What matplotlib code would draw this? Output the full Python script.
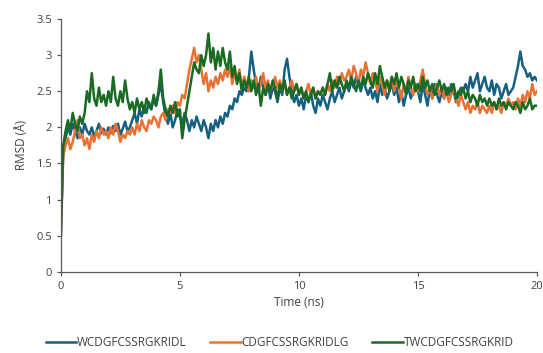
import numpy as np
from matplotlib import pyplot as plt

plt.rcParams['font.family'] = ['Open Sans', 'DejaVu Sans']

# RMSD values, one row per ns (step 0.1 ns)
wcdg = [0.5, 1.65, 1.85, 2.0, 1.9, 2.05, 1.95, 1.85, 2.0, 1.9,
        2.05, 1.95, 1.9, 2.0, 1.88, 1.95, 2.05, 1.92, 1.98, 1.9,
        2.0, 1.92, 2.02, 1.95, 2.05, 1.9, 1.98, 2.08, 1.95, 2.0,
        2.1, 2.2, 2.05, 2.25, 2.15, 2.3, 2.2, 2.35, 2.25, 2.4,
        2.3, 2.45, 2.6, 2.35, 2.15, 2.05, 2.2, 2.0, 2.1, 2.25,
        2.15, 2.05, 2.2, 2.1, 1.95, 2.1, 2.0, 2.15, 2.05, 1.95,
        2.1, 2.0, 1.85, 2.05, 1.95, 2.1, 2.0, 2.15, 2.05, 2.2,
        2.15, 2.3, 2.25, 2.4, 2.35, 2.5, 2.45, 2.55, 2.5, 2.7,
        3.05, 2.8, 2.6, 2.5, 2.7, 2.55, 2.45, 2.6, 2.4, 2.55,
        2.5, 2.35, 2.55, 2.45, 2.8, 2.95, 2.7, 2.5, 2.35, 2.45,
        2.3, 2.4, 2.25, 2.45, 2.35, 2.5, 2.3, 2.2, 2.4, 2.3,
        2.45, 2.35, 2.25, 2.4, 2.5, 2.35, 2.45, 2.55, 2.4, 2.5,
        2.6, 2.5, 2.65, 2.55, 2.7, 2.6, 2.5, 2.65, 2.55, 2.45,
        2.55, 2.4, 2.5, 2.35, 2.6, 2.45, 2.55, 2.4, 2.5, 2.6,
        2.45, 2.55, 2.35, 2.5, 2.3, 2.45, 2.55, 2.4, 2.5, 2.6,
        2.5, 2.35, 2.6, 2.45, 2.3, 2.55, 2.4, 2.6, 2.45, 2.35,
        2.5, 2.4, 2.55, 2.45, 2.6, 2.5, 2.35, 2.45, 2.55, 2.5,
        2.6, 2.5, 2.7, 2.55, 2.65, 2.75, 2.5, 2.6, 2.7, 2.55,
        2.5, 2.65, 2.45, 2.6, 2.55, 2.4, 2.5, 2.6, 2.45, 2.5,
        2.55, 2.7, 2.85, 3.05, 2.85, 2.8, 2.7, 2.75, 2.65, 2.7,
        2.65]

cdgf = [0.5, 1.6, 1.75, 1.85, 1.7, 1.8, 1.95, 2.1, 1.85, 1.9,
        1.75, 1.85, 1.7, 1.9, 1.8, 1.95, 1.85, 2.0, 1.9, 1.95,
        1.85, 2.0, 1.9, 2.05, 1.95, 1.8, 1.9, 1.85, 1.95, 1.9,
        2.0, 1.9, 2.05, 1.95, 2.1, 2.0, 1.95, 2.1, 2.05, 2.15,
        2.1, 2.0, 2.15, 2.2, 2.1, 2.25, 2.2, 2.3, 2.2, 2.35,
        2.3, 2.45, 2.4, 2.6, 2.8, 2.95, 3.1, 2.9, 3.0, 2.8,
        2.6, 2.75, 2.5, 2.65, 2.55, 2.7, 2.6, 2.75, 2.65, 2.8,
        2.7, 2.85, 2.6, 2.75, 2.65, 2.8, 2.55, 2.7, 2.6, 2.5,
        2.65, 2.55, 2.7, 2.5, 2.6, 2.75, 2.55, 2.65, 2.5, 2.6,
        2.7, 2.55, 2.65, 2.5, 2.6, 2.45, 2.55, 2.65, 2.5, 2.6,
        2.45, 2.55, 2.4, 2.5, 2.6, 2.45, 2.55, 2.4, 2.5, 2.45,
        2.55, 2.45, 2.6, 2.5, 2.65, 2.55, 2.7, 2.6, 2.75, 2.65,
        2.7, 2.8, 2.65, 2.85, 2.75, 2.6, 2.8, 2.7, 2.9, 2.75,
        2.6, 2.75, 2.65, 2.5, 2.7, 2.6, 2.45, 2.65, 2.55, 2.7,
        2.5, 2.65, 2.55, 2.4, 2.6, 2.5, 2.7, 2.55, 2.45, 2.6,
        2.5, 2.65, 2.8, 2.6, 2.45, 2.55, 2.4, 2.5, 2.6, 2.45,
        2.55, 2.4, 2.5, 2.35, 2.45, 2.55, 2.4, 2.3, 2.45, 2.35,
        2.25, 2.35, 2.2, 2.3, 2.25, 2.35, 2.2, 2.3, 2.25, 2.2,
        2.3, 2.2, 2.35, 2.25, 2.3, 2.2, 2.35, 2.3, 2.4, 2.3,
        2.35, 2.25, 2.4, 2.3, 2.45, 2.35, 2.5, 2.4, 2.6, 2.45,
        2.5]

twcd = [0.5, 1.75, 1.95, 2.1, 1.95, 2.2, 2.05, 1.95, 2.15, 2.05,
        2.2, 2.5, 2.35, 2.75, 2.4, 2.3, 2.55, 2.35, 2.45, 2.3,
        2.5, 2.35, 2.7, 2.4, 2.3, 2.5, 2.35, 2.65, 2.4, 2.25,
        2.35, 2.2, 2.4, 2.25, 2.35, 2.2, 2.4, 2.3, 2.25, 2.45,
        2.3, 2.5, 2.8, 2.4, 2.25, 2.15, 2.3, 2.2, 2.35, 2.15,
        2.25, 1.85, 2.1, 2.3, 2.5, 2.7, 2.9, 2.8, 2.75, 3.0,
        2.85, 3.0, 3.3, 2.9, 3.1, 2.8, 3.05, 2.85, 3.1, 2.9,
        2.8, 3.05, 2.7, 2.85, 2.6, 2.75, 2.5, 2.65, 2.55, 2.7,
        2.5, 2.65, 2.45, 2.6, 2.3, 2.55, 2.45, 2.6, 2.5, 2.65,
        2.55, 2.4, 2.6, 2.5, 2.65, 2.45, 2.55, 2.4, 2.5, 2.6,
        2.45, 2.55, 2.4, 2.5, 2.35, 2.45, 2.55, 2.4, 2.5, 2.45,
        2.55, 2.45, 2.6, 2.75, 2.5, 2.65, 2.55, 2.7, 2.6, 2.5,
        2.65, 2.55, 2.7, 2.6, 2.5, 2.65, 2.55, 2.7, 2.6, 2.75,
        2.65, 2.55, 2.75, 2.6, 2.85, 2.7, 2.55, 2.65, 2.5, 2.7,
        2.6, 2.75, 2.55, 2.7, 2.6, 2.45, 2.65, 2.55, 2.7, 2.5,
        2.6, 2.5, 2.7, 2.55, 2.65, 2.5, 2.6, 2.45, 2.55, 2.65,
        2.5, 2.6, 2.45, 2.55, 2.5, 2.6, 2.4, 2.5, 2.45, 2.55,
        2.4, 2.5, 2.35, 2.45, 2.4, 2.3, 2.45, 2.35, 2.4, 2.3,
        2.4, 2.3, 2.35, 2.25, 2.4, 2.3, 2.35, 2.25, 2.35, 2.3,
        2.25, 2.35, 2.3, 2.2, 2.35, 2.25, 2.3, 2.4, 2.25, 2.3,
        2.3]

names = ['WCDGFCSSRGKRIDL', 'CDGFCSSRGKRIDLG', 'TWCDGFCSSRGKRID']
colors = ['#156082', '#E97132', '#196B24']
dt = 0.1  # ns between samples

fig = plt.figure(figsize=(5.43, 3.53), dpi=100)
ax = fig.add_axes([0.112, 0.23, 0.877, 0.716])

for vals, name, c in zip([wcdg, cdgf, twcd], names, colors):
    t = np.arange(len(vals)) * dt
    ax.plot(t, vals, color=c, lw=1.8, label=name)

ax.set_xlim(0, 20)
ax.set_ylim(0, 3.5)
ax.set_xticks([0, 5, 10, 15, 20])
ax.set_yticks([0, 0.5, 1, 1.5, 2, 2.5, 3, 3.5])
ax.set_yticklabels(['0', '0.5', '1', '1.5', '2', '2.5', '3', '3.5'])
for s in ['top', 'right']:
    ax.spines[s].set_visible(False)
for s in ['left', 'bottom']:
    ax.spines[s].set_color('#595959')
    ax.spines[s].set_linewidth(0.9)
ax.tick_params(colors='#595959', labelcolor='#404040', labelsize=8, length=3, width=0.9)
ax.set_xlabel('Time (ns)', fontsize=8.5, color='#404040', labelpad=3)
ax.set_ylabel('RMSD (Å)', fontsize=8.5, color='#404040', labelpad=6)

fig.legend(loc='lower center', bbox_to_anchor=(0.515, -0.02), ncol=3, frameon=False,
           fontsize=8.5, handlelength=2.6, columnspacing=2.0, handletextpad=0.05,
           labelcolor='#404040')

fig.savefig('out.png', dpi=100)
